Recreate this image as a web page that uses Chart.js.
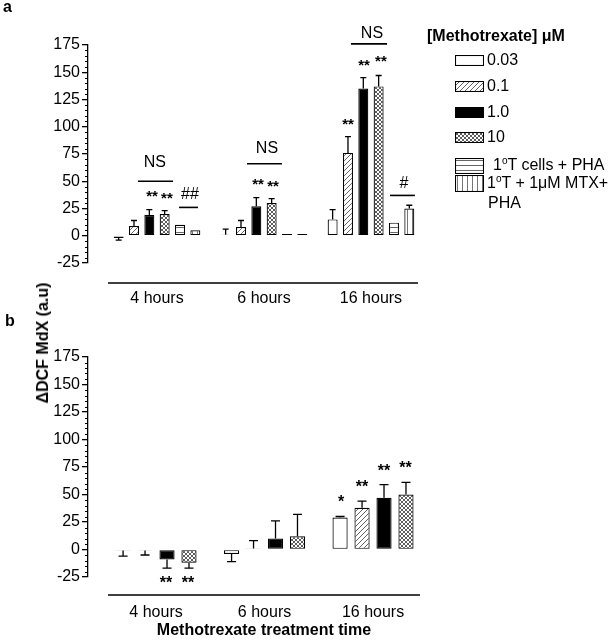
<!DOCTYPE html>
<html><head><meta charset="utf-8">
<script src="https://cdn.jsdelivr.net/npm/chart.js@4.4.1/dist/chart.umd.min.js"></script>
<style>
body{margin:0;background:#fff;width:608px;height:640px;position:relative;overflow:hidden;font-family:"Liberation Sans",Arial,sans-serif;color:#000}
.abs{position:absolute;white-space:nowrap;line-height:16px;font-size:16px}
canvas{position:absolute}
sup{font-size:10px;position:relative;top:-6px;vertical-align:baseline;line-height:0}
</style></head><body>
<canvas id="ca" width="440" height="320" style="left:0;top:0"></canvas>
<canvas id="cb" width="440" height="328" style="left:0;top:312px"></canvas>
<div class="abs" style="left:3px;top:-1px;font-weight:bold">a</div>
<div class="abs" style="left:5px;top:313px;font-weight:bold">b</div>
<div class="abs" style="left:43px;top:343px;font-weight:bold;transform:translate(-50%,-50%) rotate(-90deg)">ΔDCF MdX (a.u)</div>
<div class="abs" style="left:264px;top:622px;font-weight:bold;transform:translateX(-50%)">Methotrexate treatment time</div>
<div id="legend"></div>
<script>
// ---------- data ----------
const categories = ['4 hours', '6 hours', '16 hours'];
const yTicks = [-25, 0, 25, 50, 75, 100, 125, 150, 175];
const legendTitle = '[Methotrexate] μM';
const seriesNames = ['0.03', '0.1', '1.0', '10', '1°T cells + PHA', '1°T + 1μM MTX+\nPHA'];

// panel a values (4h, 6h, 16h) and error bar sizes
const a_003 = [-2, 1, 15];
const a_01 = [9, 8, 76];
const a_1 = [19, 27, 135];
const a_10 = [20, 30, 137];
const a_pha = [10, 1.6, 12];
const a_mtxpha = [5, 1.6, 25];
const aErr_003 = [2, 5, 9];
const aErr_01 = [5, 6, 15];
const aErr_1 = [5, 8, 10];
const aErr_10 = [3, 4, 10];
const aErr_pha = [0, 0, 0];
const aErr_mtxpha = [0, 0, 3];

// panel b values
const b_003 = [-1, -4, 29];
const b_01 = [-1, 1, 38];
const b_1 = [-9, 10, 47];
const b_10 = [-12, 12, 50];
const bErr_003 = [5, 7, 1];
const bErr_01 = [4, 7, 6];
const bErr_1 = [8, 16, 12];
const bErr_10 = [5, 20, 11];

// significance annotations (x in category units, y in data units)
const aTexts = [
  {x: -0.02, y: 68, t: 'NS'}, {x: -0.047, y: 40, t: '**'}, {x: 0.093, y: 38, t: '**'}, {x: 0.308, y: 39, t: '##'},
  {x: 1.028, y: 81, t: 'NS'}, {x: 0.944, y: 51, t: '**'}, {x: 1.084, y: 49, t: '**'},
  {x: 2.009, y: 187, t: 'NS'}, {x: 1.785, y: 106, t: '**'}, {x: 1.935, y: 160, t: '**'}, {x: 2.093, y: 164, t: '**'},
  {x: 2.308, y: 49, t: '#'}
];
const aLines = [
  {x1: -0.178, x2: 0.150, y: 50}, {x1: 0.206, x2: 0.383, y: 26},
  {x1: 0.841, x2: 1.168, y: 66}, {x1: 1.813, x2: 2.150, y: 176}, {x1: 2.178, x2: 2.411, y: 37}
];
const bTexts = [
  {x: 0.092, y: -26.6, t: '**'}, {x: 0.295, y: -26.6, t: '**'},
  {x: 1.705, y: 46.7, t: '*'}, {x: 1.899, y: 60.5, t: '**'}, {x: 2.10, y: 75, t: '**'}, {x: 2.30, y: 78, t: '**'}
];
const bLines = [];

// ---------- patterns ----------
const FONT = '"Liberation Sans", Arial, sans-serif';
function makePattern(type) {
  if (type === 'white') return '#ffffff';
  if (type === 'black') return '#000000';
  const c = document.createElement('canvas');
  const s = type === 'cross' ? 4 : 5;
  c.width = s; c.height = s;
  const g = c.getContext('2d');
  g.fillStyle = '#fff'; g.fillRect(0, 0, s, s);
  g.lineWidth = 0.9;
  if (type === 'diag') {
    g.strokeStyle = '#555';
    g.beginPath();
    g.moveTo(-1, s + 1); g.lineTo(s + 1, -1);
    g.moveTo(-1, 1); g.lineTo(1, -1);
    g.moveTo(s - 1, s + 1); g.lineTo(s + 1, s - 1);
    g.stroke();
  } else if (type === 'cross') {
    g.strokeStyle = '#333';
    g.lineWidth = 0.8;
    g.beginPath();
    g.moveTo(0, 0); g.lineTo(s, s);
    g.moveTo(0, s); g.lineTo(s, 0);
    g.stroke();
  } else if (type === 'hlines') {
    g.strokeStyle = '#555';
    g.beginPath(); g.moveTo(0, 2.5); g.lineTo(s, 2.5); g.stroke();
  } else if (type === 'vlines') {
    g.strokeStyle = '#666';
    g.beginPath(); g.moveTo(2.5, 0); g.lineTo(2.5, s); g.stroke();
  }
  return g.createPattern(c, 'repeat');
}
const fillTypes = ['white', 'diag', 'black', 'cross', 'hlines', 'vlines'];
const fills = fillTypes.map(makePattern);

// ---------- plugins ----------
function errPlugin(errs, capW) {
  return {
    id: 'errbars',
    afterDatasetsDraw(chart) {
      const ctx = chart.ctx, y = chart.scales.y;
      ctx.save();
      ctx.strokeStyle = '#000'; ctx.lineWidth = 1.3;
      chart.data.datasets.forEach((ds, di) => {
        const meta = chart.getDatasetMeta(di);
        meta.data.forEach((el, i) => {
          const v = ds.data[i].y, e = errs[di][i];
          if (!e) return;
          const sgn = v >= 0 ? 1 : -1;
          const y0 = y.getPixelForValue(v), y1 = y.getPixelForValue(v + sgn * e);
          ctx.beginPath();
          ctx.moveTo(el.x, y0); ctx.lineTo(el.x, y1);
          ctx.moveTo(el.x - capW / 2, y1); ctx.lineTo(el.x + capW / 2, y1);
          ctx.stroke();
        });
      });
      ctx.restore();
    }
  };
}
function annPlugin(texts, lines, starSize) {
  return {
    id: 'ann',
    afterDatasetsDraw(chart) {
      const ctx = chart.ctx, {x, y} = chart.scales;
      ctx.save();
      ctx.fillStyle = '#000'; ctx.strokeStyle = '#000'; ctx.lineWidth = 1.6;
      lines.forEach(l => {
        const py = y.getPixelForValue(l.y);
        ctx.beginPath(); ctx.moveTo(x.getPixelForValue(l.x1), py); ctx.lineTo(x.getPixelForValue(l.x2), py); ctx.stroke();
      });
      ctx.textAlign = 'center'; ctx.textBaseline = 'alphabetic';
      texts.forEach(t => {
        const star = t.t.indexOf('*') >= 0;
        const size = star ? starSize : 16;
        ctx.font = (star ? 'bold ' : '') + size + 'px ' + FONT;
        const off = star ? 0.57 * size : 0.36 * size;
        ctx.fillText(t.t, x.getPixelForValue(t.x), y.getPixelForValue(t.y) + off);
      });
      ctx.restore();
    }
  };
}
function axisPlugin(dy, rightInset) {
  return {
    id: 'axisdeco',
    afterDraw(chart) {
      const ctx = chart.ctx, a = chart.chartArea, y = chart.scales.y;
      ctx.save();
      ctx.strokeStyle = '#000'; ctx.lineWidth = 1.3;
      ctx.beginPath();
      ctx.moveTo(a.left + 20, a.bottom + dy); ctx.lineTo(a.right - rightInset, a.bottom + dy);
      ctx.stroke();
      ctx.lineWidth = 1;
      ctx.beginPath();
      for (let v = y.min; v <= y.max; v += 5) {
        if (v % 25 === 0) continue;
        const py = Math.round(y.getPixelForValue(v)) + 0.5;
        ctx.moveTo(a.left - 3, py); ctx.lineTo(a.left, py);
      }
      ctx.stroke();
      ctx.restore();
    }
  };
}

function buildChart(id, series, errs, xmin, xmax, catPct, barPct, texts, lines, starSize, capW, padBottom, dy, rightInset) {
  const datasets = series.map((vals, i) => ({
    label: seriesNames[i],
    data: vals.map((v, j) => ({x: j, y: v})),
    backgroundColor: fills[i],
    borderColor: '#000',
    borderWidth: 1.2,
    borderSkipped: false,
    categoryPercentage: catPct,
    barPercentage: barPct
  }));
  return new Chart(document.getElementById(id), {
    type: 'bar',
    data: {datasets},
    options: {
      responsive: false, animation: false,
      layout: {padding: {left: 48, top: 45, right: 15, bottom: padBottom}},
      plugins: {legend: {display: false}, tooltip: {enabled: false}},
      scales: {
        x: {
          type: 'linear', min: xmin, max: xmax, offset: false,
          grid: {display: false, offset: false}, border: {display: false},
          afterBuildTicks: s => { s.ticks = categories.map((c, i) => ({value: i})); },
          afterFit: s => { s.height = 50; },
          ticks: {padding: 18, color: '#000', font: {size: 16, family: FONT}, callback: v => categories[v]}
        },
        y: {
          min: -25, max: 175,
          afterFit: s => { s.width = 40; },
          afterBuildTicks: s => { s.ticks = yTicks.map(v => ({value: v})); },
          ticks: {padding: 2, color: '#000', font: {size: 16, family: FONT}},
          grid: {drawOnChartArea: false, tickLength: 6, color: '#000', lineWidth: 1.3},
          border: {color: '#000', width: 1.3}
        }
      }
    },
    plugins: [errPlugin(errs, capW), annPlugin(texts, lines, starSize), axisPlugin(dy, rightInset)]
  });
}

buildChart('ca',
  [a_003, a_01, a_1, a_10, a_pha, a_mtxpha],
  [aErr_003, aErr_01, aErr_1, aErr_10, aErr_pha, aErr_mtxpha],
  -0.645, 2.505, 0.86, 0.65, aTexts, aLines, 15, 6, 7, 20, 7);
buildChart('cb',
  [b_003, b_01, b_1, b_10],
  [bErr_003, bErr_01, bErr_1, bErr_10],
  -0.627, 2.479, 0.81, 0.69, bTexts, bLines, 16, 9, 13, 18, 5);

// ---------- legend ----------
const legend = document.getElementById('legend');
const t = document.createElement('div');
t.className = 'abs'; t.style.left = '427px'; t.style.top = '28px'; t.style.fontWeight = 'bold';
t.textContent = legendTitle;
legend.appendChild(t);
const rowY = [60, 86, 112, 137, 165, 183];
const boxH = [10, 10, 10, 10, 15, 16];
const textX = [487, 487, 487, 487, 493, 487];
seriesNames.forEach((name, i) => {
  const cv = document.createElement('canvas');
  cv.width = 29; cv.height = boxH[i] + 1;
  cv.style.left = '455px'; cv.style.top = (rowY[i] - boxH[i] / 2) + 'px';
  const g = cv.getContext('2d');
  g.fillStyle = fills[i]; g.fillRect(0.5, 0.5, 28, boxH[i]);
  g.strokeStyle = '#000'; g.lineWidth = 1.1; g.strokeRect(0.5, 0.5, 28, boxH[i]);
  legend.appendChild(cv);
  name.split('\n').forEach((line, k) => {
    const d = document.createElement('div');
    d.className = 'abs';
    d.style.left = (textX[i] + (k ? 1 : 0)) + 'px';
    d.style.top = (rowY[i] - 8 + k * 20) + 'px';
    d.innerHTML = line.replace('°', '<sup>o</sup>');
    legend.appendChild(d);
  });
});
</script>
</body></html>
